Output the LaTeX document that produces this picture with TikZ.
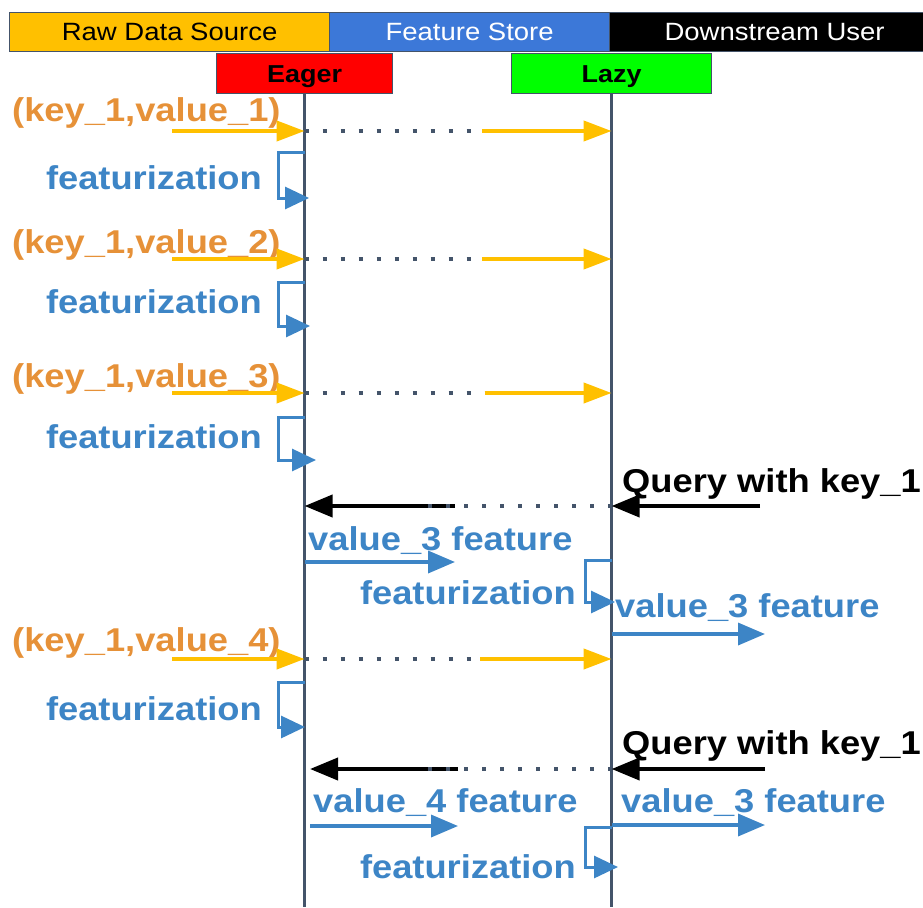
\documentclass[tikz,border=0pt]{standalone}
\usepackage{fontspec}
\setmainfont{Liberation Sans}[FakeStretch=1.1]
\usetikzlibrary{arrows.meta}
\definecolor{gold}{RGB}{255,192,0}
\definecolor{orng}{RGB}{230,145,56}
\definecolor{fblue}{RGB}{61,133,198}
\definecolor{hblue}{RGB}{60,120,216}
\definecolor{slate}{RGB}{68,84,106}

\begin{document}
\begin{tikzpicture}[x=1pt,y=-1pt,
  hdr/.style={draw=slate, line width=1.2pt, inner sep=0pt, anchor=north west,
    minimum height=39pt, font=\fontsize{25}{28}\selectfont},
  role/.style={draw=slate, line width=1.2pt, inner sep=0pt, anchor=north west,
    minimum height=40pt, text depth=0pt, font=\fontsize{24.5}{27}\selectfont\bfseries},
  lbl/.style={inner sep=0pt, font=\fontsize{33}{36}\selectfont\bfseries},
  keylbl/.style={lbl, text=orng, anchor=base west},
  featlbl/.style={lbl, text=fblue, anchor=base east},
  vallbl/.style={lbl, text=fblue, anchor=base west},
  querylbl/.style={lbl, text=black, anchor=base west},
  lifeline/.style={draw=slate, line width=3.5pt},
  dots/.style={draw=slate, line width=3.5pt, dash pattern=on 4pt off 14pt},
  putarrow/.style={draw=gold, line width=4pt, -{Triangle[length=28pt,width=20pt]}},
  getarrow/.style={draw=black, line width=4pt, -{Triangle[length=28pt,width=22pt]}},
  featarrow/.style={draw=fblue, line width=3.5pt, -{Triangle[length=27pt,width=22pt]}},
  loop/.style={draw=fblue, line width=3pt, -{Triangle[length=24pt,width=22pt]}},
]
\useasboundingbox (0,0) rectangle (923,907);

% header bands
\node[hdr, fill=gold, minimum width=320pt] (raw) at (9,11.7) {Raw Data Source};
\node[hdr, fill=hblue, minimum width=280pt, text=white] (store) at (329,11.7) {Feature Store};
\node[hdr, fill=black, minimum width=330pt, text=white] (user) at (609,11.7) {Downstream User};

% the two store variants
\node[role, fill=red, minimum width=176pt] (eager) at (216,53) {Eager};
\node[role, fill=green, minimum width=200pt] (lazy) at (511,53) {Lazy};

% lifelines
\coordinate (eagerEnd) at (eager.south |- 0,907);
\coordinate (lazyEnd) at (lazy.south |- 0,907);
\path[lifeline] (eager.south) -- (eagerEnd);
\path[lifeline] (lazy.south) -- (lazyEnd);

% ---------- put (key_1,value_k) and featurize ----------
% \putrow{name}{label}{label baseline}{arrow y}{dots end}{second arrow start}
\newcommand{\putrow}[6]{%
  \node[keylbl] (#1txt) at (12,#3) {#2};
  \coordinate (#1src) at (172,#4);
  \coordinate (#1e) at (eager.south |- 0,#4);
  \coordinate (#1mid) at (#5,#4);
  \coordinate (#1mid2) at (#6,#4);
  \coordinate (#1l) at (lazy.south |- 0,#4);
  \path[putarrow] (#1src) -- (#1e);
  \path[dots] (#1e) -- (#1mid);
  \path[putarrow] (#1mid2) -- (#1l);
}
% \featloop{name}{lifeline}{label x}{label baseline}{top y}{bottom y}{loop x}{tip x}
\newcommand{\featloop}[8]{%
  \node[featlbl] (#1txt) at (#3,#4) {featurization};
  \coordinate (#1a) at (#2.south |- 0,#5);
  \coordinate (#1b) at (#7,#5);
  \coordinate (#1c) at (#7,#6);
  \coordinate (#1d) at (#8,#6);
  \path[loop] (#1a) -- (#1b) -- (#1c) -- (#1d);
}

\putrow{pa}{(key\_1,value\_1)}{121}{131}{492}{482}
\featloop{fa}{eager}{262}{189}{152}{198}{278}{309}

\putrow{pb}{(key\_1,value\_2)}{253}{259}{490}{482}
\featloop{fb}{eager}{262}{313}{282}{326}{278}{310}

\putrow{pc}{(key\_1,value\_3)}{387}{393}{492}{485}
\featloop{fc}{eager}{262}{448}{417}{460}{278}{316}

% ---------- first query ----------
\node[querylbl] (qa) at (622,492) {Query with key\_1};
\coordinate (qaSrc) at (760,506);
\coordinate (qaL) at (lazy.south |- 0,506);
\coordinate (qaMid) at (425,506);
\coordinate (qaMid2) at (455,506);
\coordinate (qaE) at (eager.south |- 0,506);
\path[getarrow] (qaSrc) -- (qaL);
\path[getarrow] (qaMid2) -- (qaE);
\path[dots] (qaL) -- (qaMid);

\node[vallbl] (va) at (308,550) {value\_3 feature};
\coordinate (vaE) at (eager.south |- 0,562);
\coordinate (vaEnd) at (455,562);
\path[featarrow] (vaE) -- (vaEnd);

\featloop{fd}{lazy}{576}{604}{560}{602}{585}{615}

\node[vallbl] (vb) at (615,617) {value\_3 feature};
\coordinate (vbL) at (lazy.south |- 0,634);
\coordinate (vbEnd) at (765,634);
\path[featarrow] (vbL) -- (vbEnd);

% ---------- put value_4 ----------
\putrow{pd}{(key\_1,value\_4)}{651}{659}{500}{480}
\featloop{fe}{eager}{262}{720}{682}{727}{278}{305}

% ---------- second query ----------
\node[querylbl] (qb) at (622,754) {Query with key\_1};
\coordinate (qbSrc) at (765,769);
\coordinate (qbL) at (lazy.south |- 0,769);
\coordinate (qbMid) at (420,769);
\coordinate (qbMid2) at (458,769);
\coordinate (qbE) at (310,769);
\path[getarrow] (qbSrc) -- (qbL);
\path[getarrow] (qbMid2) -- (qbE);
\path[dots] (qbL) -- (qbMid);

\node[vallbl] (vc) at (313,812) {value\_4 feature};
\coordinate (vcE) at (310,826);
\coordinate (vcEnd) at (458,826);
\path[featarrow] (vcE) -- (vcEnd);

\node[vallbl] (vd) at (621,812) {value\_3 feature};
\coordinate (vdL) at (lazy.south |- 0,825);
\coordinate (vdEnd) at (765,825);
\path[featarrow] (vdL) -- (vdEnd);

\featloop{ff}{lazy}{576}{878}{827}{867}{585}{618}
\end{tikzpicture}
\end{document}
